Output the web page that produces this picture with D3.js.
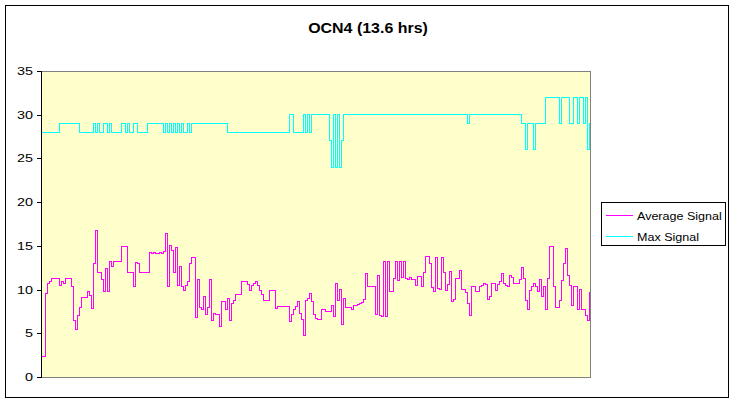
<!DOCTYPE html>
<html><head><meta charset="utf-8">
<script src="https://cdn.jsdelivr.net/npm/d3@7/dist/d3.min.js"></script>
<style>html,body{margin:0;padding:0;background:#fff;}svg{display:block;}</style>
</head><body>
<script>
const title = "OCN4 (13.6 hrs)";
const seriesNames = ["Average Signal", "Max Signal"];
const yTicks = [0, 5, 10, 15, 20, 25, 30, 35];

const avgSignal = [
2.3,2.3,9.5,10.7,10.9,11.3,11.3,11.3,11.3,10.5,
10.9,10.7,11.3,11.3,11.3,10.3,6.5,5.4,7.0,7.9,
9.1,9.1,9.1,9.8,9.3,7.8,13.0,16.7,12.0,11.9,
11.1,9.8,12.4,9.8,13.2,12.6,13.2,13.2,13.2,13.2,
14.9,14.9,14.9,12.0,12.0,12.0,10.4,13.1,13.0,11.9,
11.9,11.9,11.9,11.9,14.2,14.1,14.2,14.1,14.1,14.2,
14.1,14.3,16.4,10.4,15.0,14.5,12.0,14.8,10.5,12.6,
10.3,9.95,10.5,10.9,13.0,13.7,13.7,6.8,11.1,8.0,
7.7,9.2,7.1,7.9,11.1,6.5,7.3,7.1,7.1,5.8,
8.6,8.6,7.7,9.0,6.5,8.4,8.8,9.4,9.4,9.4,
10.9,10.9,10.9,10.6,9.95,10.5,10.7,10.9,10.5,9.95,
9.4,8.8,8.8,8.8,9.95,9.95,9.95,7.8,8.1,8.1,
8.1,8.1,8.1,8.1,6.3,7.2,7.7,8.1,8.6,7.3,
6.6,4.8,8.7,9.0,9.5,8.6,7.1,6.7,6.6,6.6,
7.7,7.7,7.5,7.5,7.5,8.2,6.9,10.7,8.8,10.0,
6.0,9.0,7.9,7.9,7.9,7.7,8.2,8.2,8.3,8.4,
8.5,8.9,11.8,10.3,10.3,10.3,10.3,7.1,11.6,7.0,
6.9,13.2,6.9,13.2,9.8,9.8,11.3,13.2,11.0,13.2,
11.4,13.2,11.3,11.1,11.4,11.1,11.1,10.5,11.5,11.5,
10.3,12.0,13.8,13.8,13.0,10.2,9.8,13.7,10.1,10.0,
13.7,12.0,9.95,10.6,12.1,8.6,8.9,11.3,11.3,12.2,
10.0,10.0,9.7,8.4,7.0,10.3,10.3,9.8,9.8,10.3,
10.5,10.7,10.6,8.9,9.2,10.7,10.7,9.9,10.6,10.9,
11.8,10.7,10.5,10.3,11.6,11.4,10.7,10.7,10.7,11.1,
12.5,11.3,8.8,7.7,9.9,10.3,10.7,10.3,9.8,11.2,
9.2,10.3,7.7,11.3,14.9,14.9,10.3,7.9,7.9,8.8,
11.0,13.0,14.7,11.6,10.5,8.2,10.3,10.3,7.7,10.0,
7.7,7.7,7.0,6.5,9.76
];

const maxSignal = [
28,28,28,28,28,28,28,28,28,
29,29,29,29,29,29,29,29,29,29,
28,28,28,28,28,28,28,
29,28,29,28,28,29,29,28,29,28,
28,28,28,28,
29,29,28,29,28,28,29,29,28,28,28,28,28,
29,29,29,29,29,29,29,29,
28,29,28,29,28,29,28,29,28,29,28,28,29,28,
29,29,29,29,29,29,29,29,29,29,29,29,29,29,29,29,29,29,
28,28,28,28,28,28,28,28,28,28,28,28,28,28,28,28,28,28,28,28,28,28,28,28,28,28,28,28,28,28,28,
30,30,
28,28,28,28,28,
30,28,30,28,30,
30,30,30,30,30,30,30,30,
27,24,30,24,30,24,27,
30,30,30,30,30,30,30,30,30,30,30,30,30,30,30,30,30,30,30,30,30,30,30,30,30,30,30,30,30,30,30,
30,30,30,30,30,30,30,30,30,30,30,30,30,30,30,30,30,30,30,30,30,30,30,30,30,30,30,30,30,30,30,
29,
30,30,30,30,30,30,30,30,30,30,30,30,30,30,30,30,30,30,30,30,30,30,30,30,30,30,
29,29,26,29,29,29,26,29,29,29,29,29,
32,32,32,32,32,32,32,
29,32,32,32,32,29,29,32,32,29,32,32,29,32,26,29
];

const W = 735, H = 403;
const plot = {left: 41, right: 590, top: 71, bottom: 377};
const FONT = "Arial, 'Liberation Sans', sans-serif";
const SX = 1.14;

const svg = d3.select("body").append("svg").attr("width", W).attr("height", H);
svg.append("rect").attr("x", 0).attr("y", 0).attr("width", W).attr("height", H).attr("fill", "#fff");
svg.append("rect").attr("x", 5.5).attr("y", 5.5).attr("width", 723).attr("height", 392)
  .attr("fill", "#fff").attr("stroke", "#000").attr("stroke-width", 1);

const x = d3.scaleLinear().domain([0, avgSignal.length - 1]).range([plot.left + 0.5, plot.right - 0.5]);
const y = d3.scaleLinear().domain([0, 35]).range([plot.bottom, plot.top]);

svg.append("rect").attr("x", plot.left).attr("y", plot.top)
  .attr("width", plot.right - plot.left).attr("height", plot.bottom - plot.top)
  .attr("fill", "#FFFFCC").attr("stroke", "#808080").attr("stroke-width", 1)
  .attr("shape-rendering", "crispEdges");

function stext(g, tx, ty, str, opts) {
  return g.append("text")
    .attr("transform", `translate(${tx},${ty}) scale(${opts.sx || SX},1)`)
    .attr("font-family", FONT).attr("font-size", opts.size)
    .attr("font-weight", opts.weight || "normal")
    .attr("text-anchor", opts.anchor || "start")
    .attr("fill", "#000").text(str);
}

// Y axis
const yAxis = d3.axisLeft(y).tickValues(yTicks).tickSize(4).tickFormat("");
const ga = svg.append("g").attr("transform", `translate(${plot.left},0)`).call(yAxis);
ga.select(".domain").attr("stroke", "#000").attr("shape-rendering", "crispEdges");
ga.selectAll(".tick line").attr("stroke", "#000").attr("shape-rendering", "crispEdges");
yTicks.forEach(v => stext(svg, 33, y(v) + 4, String(v), {size: 11.5, anchor: "end", sx: 1.25}));

// lines
const line = d3.line().x((d, i) => x(i)).y(d => y(d)).curve(d3.curveStepAfter);
svg.append("path").datum(maxSignal).attr("d", line).attr("fill", "none")
  .attr("stroke", "#00FFFF").attr("stroke-width", 1).attr("shape-rendering", "crispEdges");
svg.append("path").datum(avgSignal).attr("d", line).attr("fill", "none")
  .attr("stroke", "#FF00FF").attr("stroke-width", 1).attr("shape-rendering", "crispEdges");

// title
stext(svg, 368, 33, title, {size: 14, weight: "bold", anchor: "middle"});

// legend
const lg = svg.append("g");
lg.append("rect").attr("x", 601.5).attr("y", 202.5).attr("width", 124).attr("height", 43)
  .attr("fill", "#fff").attr("stroke", "#000").attr("stroke-width", 1);
const colors = ["#FF00FF", "#00FFFF"];
seriesNames.forEach((n, i) => {
  const ly = 215.5 + i * 21;
  lg.append("line").attr("x1", 606).attr("x2", 633).attr("y1", ly).attr("y2", ly)
    .attr("stroke", colors[i]).attr("stroke-width", 1).attr("shape-rendering", "crispEdges");
  stext(lg, 637, ly + 4, n, {size: 11});
});
</script>
</body></html>
